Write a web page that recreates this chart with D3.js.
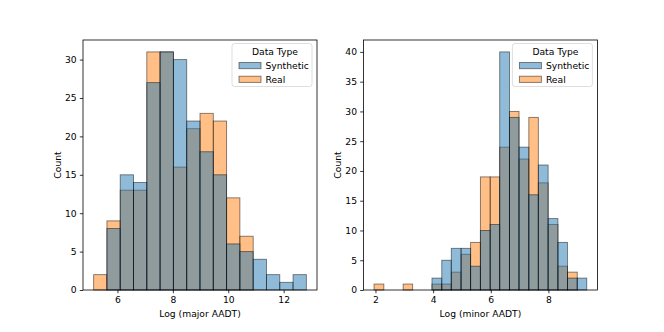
<!DOCTYPE html>
<html>
<head>
<meta charset="utf-8">
<script src="https://cdn.jsdelivr.net/npm/d3@7"></script>
<style>
  body { margin: 0; background: #fff; }
  text { font-family: "DejaVu Sans", sans-serif; font-size: 9.2px; fill: #000; }
</style>
</head>
<body>
<script>
// ---- data (counts per bin) ----
let majorEdges = [5.14, 5.62, 6.10, 6.58, 7.06, 7.54, 8.02, 8.50, 8.98, 9.46, 9.94,
                  10.42, 10.90, 11.38, 11.86, 12.34, 12.82];
let majorSynthetic = [0, 8, 15, 14, 27, 31, 30, 22, 18, 15, 6, 5, 4, 2, 1, 2];
let majorReal      = [2, 9, 13, 13, 31, 31, 16, 21, 23, 22, 12, 7, 0, 0, 0, 0];

let minorEdges = [1.95, 2.29, 2.62, 2.96, 3.29, 3.63, 3.96, 4.30, 4.63, 4.97, 5.30, 5.64,
                  5.98, 6.31, 6.65, 6.98, 7.32, 7.65, 7.99, 8.33, 8.66, 9.00, 9.33];
let minorSynthetic = [0, 0, 0, 0, 0, 0, 2, 5, 7, 7, 4, 10, 11, 40, 29, 24, 16, 21, 12, 8, 2, 2];
let minorReal      = [1, 0, 0, 1, 0, 0, 1, 1, 3, 6, 8, 19, 19, 24, 30, 22, 29, 18, 11, 4, 3, 0];

let majorTicks = [6, 8, 10, 12];
let minorTicks = [2, 4, 6, 8];

let hueNames = ["Synthetic", "Real"];
let hueColors = {Synthetic: "#1f77b4", Real: "#ff7f0e"};

let W = 664, H = 332;
let plotTop = 40, plotBottom = 290, axW = 234;

let svg = d3.select("body").append("svg")
    .attr("width", W)
    .attr("height", H);

function panel(x0, edges, synth, real, xticks, xlabel) {
    let g = svg.append("g").attr("transform", `translate(${x0},0)`);

    // matplotlib style 5% margins
    let lo = edges[0], hi = edges[edges.length - 1], pad = (hi - lo) * 0.05;
    let xScale = d3.scaleLinear().domain([lo - pad, hi + pad]).range([0, axW]);
    let ymax = d3.max(synth.concat(real)) * 1.05;
    let yScale = d3.scaleLinear().domain([0, ymax]).range([plotBottom, plotTop]);

    // real first, synthetic on top (seaborn draws hue levels reversed)
    [["Real", real], ["Synthetic", synth]].forEach(([name, counts]) => {
        g.append("g").selectAll("rect")
            .data(counts.map((c, i) => ({c: c, x0: edges[i], x1: edges[i + 1]})).filter(d => d.c > 0))
            .enter()
            .append("rect")
                .attr("x", d => xScale(d.x0))
                .attr("width", d => xScale(d.x1) - xScale(d.x0))
                .attr("y", d => yScale(d.c))
                .attr("height", d => yScale(0) - yScale(d.c))
                .attr("fill", hueColors[name])
                .attr("fill-opacity", 0.5)
                .attr("stroke", "#000")
                .attr("stroke-opacity", 0.5)
                .attr("stroke-width", 0.9);
    });

    // axes
    let xAxis = d3.axisBottom(xScale).tickValues(xticks).tickSize(3.2).tickPadding(3.2).tickSizeOuter(0);
    let yAxis = d3.axisLeft(yScale).ticks(ymax / 5).tickSize(3.2).tickPadding(3.2).tickSizeOuter(0);

    let gx = g.append("g").attr("transform", `translate(0,${plotBottom})`).call(xAxis);
    let gy = g.append("g").call(yAxis);
    [gx, gy].forEach(a => {
        a.select(".domain").remove();
        a.selectAll("line").attr("stroke", "#000").attr("stroke-width", 0.8);
        a.selectAll("text").style("font-family", "DejaVu Sans").style("font-size", "9.2px").attr("fill", "#000");
    });

    // spines
    g.append("rect")
        .attr("x", 0).attr("y", plotTop)
        .attr("width", axW).attr("height", plotBottom - plotTop)
        .attr("fill", "none")
        .attr("stroke", "#000")
        .attr("stroke-width", 0.8);

    g.append("text")
        .attr("x", axW / 2).attr("y", 316.5)
        .attr("text-anchor", "middle")
        .text(xlabel);

    g.append("text")
        .attr("transform", `translate(${-22},${(plotTop + plotBottom) / 2}) rotate(-90)`)
        .attr("text-anchor", "middle")
        .text("Count");

    // legend
    let lg = g.append("g").attr("transform", `translate(${axW - 85},43.5)`);
    lg.append("rect")
        .attr("width", 80).attr("height", 43)
        .attr("rx", 2.5)
        .attr("fill", "#fff").attr("fill-opacity", 0.8)
        .attr("stroke", "#d6d6d6").attr("stroke-width", 0.8);
    lg.append("text")
        .attr("x", 43).attr("y", 11.5)
        .attr("text-anchor", "middle")
        .text("Data Type");
    hueNames.forEach((name, i) => {
        let yy = 19 + i * 13.7;
        lg.append("rect")
            .attr("x", 7).attr("y", yy)
            .attr("width", 22).attr("height", 6.2)
            .attr("fill", hueColors[name]).attr("fill-opacity", 0.5)
            .attr("stroke", "#000").attr("stroke-opacity", 0.5)
            .attr("stroke-width", 0.9);
        lg.append("text")
            .attr("x", 33.5).attr("y", yy + 6.5)
            .text(name);
    });
}

panel(83, majorEdges, majorSynthetic, majorReal, majorTicks, "Log (major AADT)");
panel(363.4, minorEdges, minorSynthetic, minorReal, minorTicks, "Log (minor AADT)");
</script>
</body>
</html>
